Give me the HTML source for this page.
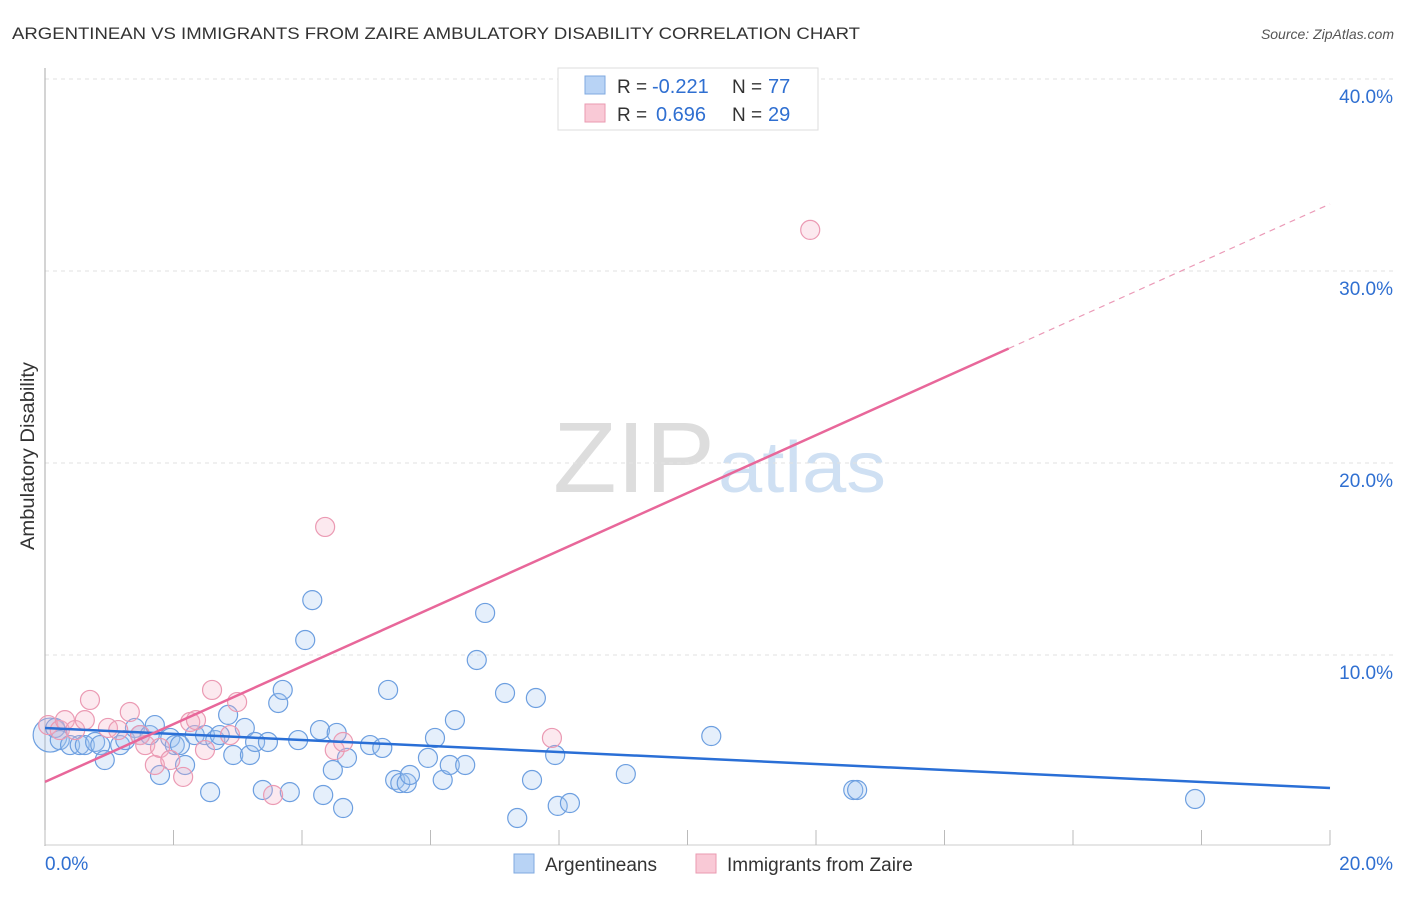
<!DOCTYPE html>
<html><head><meta charset="utf-8"><style>
body{margin:0;background:#fff;font-family:"Liberation Sans",sans-serif}
svg text{font-family:"Liberation Sans",sans-serif}
</style></head><body>
<svg id="c" width="1406" height="892" xmlns="http://www.w3.org/2000/svg">
<text x="12" y="39" font-size="17" fill="#333" textLength="848" lengthAdjust="spacingAndGlyphs">ARGENTINEAN VS IMMIGRANTS FROM ZAIRE AMBULATORY DISABILITY CORRELATION CHART</text>
<text x="1394" y="39" font-size="14" fill="#555" text-anchor="end" font-style="italic">Source: ZipAtlas.com</text>
<text x="553" y="492" font-size="100" fill="#ddd" font-family="Liberation Serif" textLength="162" lengthAdjust="spacingAndGlyphs">ZIP</text>
<text x="718" y="492" font-size="72" fill="#cfe0f3" textLength="168" lengthAdjust="spacingAndGlyphs">atlas</text>
<text transform="translate(34,456) rotate(-90)" font-size="19" fill="#333" text-anchor="middle" textLength="188" lengthAdjust="spacingAndGlyphs">Ambulatory Disability</text>
<g id="grid"></g><g id="marks"></g>
<g>
<rect x="558" y="68" width="260" height="62" fill="#fff" stroke="#ddd"/>
<rect x="585" y="76" width="20" height="18" fill="#b8d3f5" stroke="#7fa9e0"/>
<rect x="585" y="104" width="20" height="18" fill="#f9c9d6" stroke="#ea9ab0"/>
<text x="617" y="93" font-size="19" fill="#333">R =</text>
<text x="652" y="93" font-size="20" fill="#2f6fd1">-0.221</text>
<text x="732" y="93" font-size="19" fill="#333">N =</text>
<text x="768" y="93" font-size="20" fill="#2f6fd1">77</text>
<text x="617" y="121" font-size="19" fill="#333">R =</text>
<text x="656" y="121" font-size="20" fill="#2f6fd1">0.696</text>
<text x="732" y="121" font-size="19" fill="#333">N =</text>
<text x="768" y="121" font-size="20" fill="#2f6fd1">29</text>
</g>
<g>
<rect x="514" y="854" width="20" height="19" fill="#b8d3f5" stroke="#7fa9e0"/>
<text x="545" y="871" font-size="19" fill="#333">Argentineans</text>
<rect x="696" y="854" width="20" height="19" fill="#f9c9d6" stroke="#ea9ab0"/>
<text x="727" y="871" font-size="19" fill="#333">Immigrants from Zaire</text>
</g>
</svg>
<script>
const yTicks=[10,20,30,40];
const blueX=[0.16,0.23,0.39,0.54,0.62,0.78,0.86,0.93,1.17,1.25,1.40,1.48,1.63,1.71,1.79,1.95,2.02,2.10,2.18,2.33,2.49,2.57,2.65,2.72,2.85,2.93,3.11,3.19,3.27,3.47,3.39,3.63,3.70,3.81,3.94,4.05,4.16,4.28,4.33,4.48,4.54,4.64,4.70,5.06,5.25,5.34,5.45,5.53,5.63,5.68,5.96,6.07,6.19,6.30,6.38,6.54,6.72,6.85,7.16,7.35,7.58,7.64,7.94,7.98,8.17,9.04,10.37,12.58,12.64,17.90];
const blueY=[6.2,5.57,5.31,5.31,5.31,5.47,5.31,4.53,5.31,5.57,6.2,5.83,5.83,6.35,3.75,5.68,5.31,5.31,4.27,5.83,5.83,2.86,5.57,5.83,6.88,4.79,6.2,4.79,5.47,5.47,2.97,7.5,8.18,2.86,5.57,10.78,12.86,6.09,2.71,4.01,5.94,2.03,4.64,5.31,5.16,8.18,3.49,3.33,3.33,3.75,4.64,5.68,3.49,4.27,6.61,4.27,9.74,12.19,8.02,1.51,3.49,7.76,4.79,2.14,2.29,3.8,5.78,2.97,2.97,2.5];
const pinkX=[0.05,0.23,0.31,0.47,0.62,0.7,0.98,1.14,1.32,1.48,1.56,1.71,1.79,1.95,2.15,2.26,2.35,2.49,2.6,2.88,2.99,3.55,4.36,4.51,4.64,7.89,11.91];
const pinkY=[6.35,6.09,6.61,6.09,6.61,7.66,6.2,6.09,7.03,5.83,5.31,4.27,5.16,4.53,3.65,6.51,6.61,5.05,8.18,5.83,7.55,2.71,16.67,5.05,5.47,5.68,32.14];
const blueTrend=[6.2,3.07];
const pinkTrend=[3.39,1.505];
const NS='http://www.w3.org/2000/svg';
const sx=v=>45+v*64.25, sy=v=>847-v*19.2;
function el(t,a,p){const e=document.createElementNS(NS,t);for(const k in a)e.setAttribute(k,a[k]);p.appendChild(e);return e;}
const g=document.getElementById('grid'),m=document.getElementById('marks');
yTicks.forEach(t=>{
const l=el('line',{x1:45,x2:1394,y1:sy(t),y2:sy(t),stroke:'#e2e2e2','stroke-dasharray':'4,4'},g);


const tx=el('text',{x:1393,y:sy(t)+24,'font-size':19,fill:'#2f6fd1','text-anchor':'end'},g);tx.textContent=t.toFixed(1)+'%';


});
el('line',{x1:45,x2:45,y1:68,y2:846,stroke:'#aaa'},g);
el('line',{x1:45,x2:1330,y1:845,y2:845,stroke:'#ccc'},g);
for(let i=0;i<=10;i++){const t=el('line',{x1:sx(i*2),x2:sx(i*2),y1:830,y2:845,stroke:'#bbb'},g);

}
[[0,'0.0%','start',45],[20,'20.0%','end',1393]].forEach(a=>{const t=el('text',{x:a[3],y:870,'font-size':19,fill:'#2f6fd1','text-anchor':a[2]},g);t.textContent=a[1];

});
const big=el('circle',{cx:sx(0.08),cy:sy(5.83),r:17,fill:'rgba(160,196,240,0.3)',stroke:'#6d9fe0','stroke-width':1.2},m);


blueX.forEach((x,i)=>{const c=el('circle',{cx:sx(x),cy:sy(blueY[i]),r:9.5,fill:'rgba(160,196,240,0.28)',stroke:'#6d9fe0','stroke-width':1.2},m);

});
pinkX.forEach((x,i)=>{const c=el('circle',{cx:sx(x),cy:sy(pinkY[i]),r:9.5,fill:'rgba(245,175,198,0.28)',stroke:'#eb9ab3','stroke-width':1.2},m);

});
const bl=el('line',{x1:sx(0),y1:sy(blueTrend[0]),x2:sx(20),y2:sy(blueTrend[1]),stroke:'#2a6fd6','stroke-width':2.5},m);


const pl=el('line',{x1:sx(0),y1:sy(pinkTrend[0]),x2:sx(15),y2:sy(pinkTrend[0]+15*pinkTrend[1]),stroke:'#e8679a','stroke-width':2.5},m);


const pd=el('line',{x1:sx(15),y1:sy(pinkTrend[0]+15*pinkTrend[1]),x2:sx(20),y2:sy(pinkTrend[0]+20*pinkTrend[1]),stroke:'#eb9ab7','stroke-width':1.2,'stroke-dasharray':'6,5'},m);


</script>
</body></html>
